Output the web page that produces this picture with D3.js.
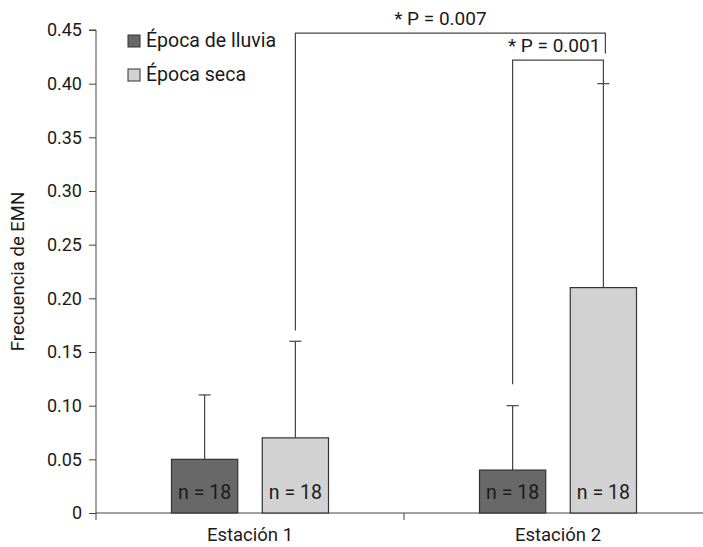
<!DOCTYPE html>
<html>
<head>
<meta charset="utf-8">
<script src="https://cdn.jsdelivr.net/npm/d3@7"></script>
<style>
  body { margin: 0; background: #fff; }
  text { font-family: Roboto, "Noto Sans", sans-serif; fill: #1a1a1a; }
</style>
</head>
<body>
<div id="chart"></div>
<script>
// stations on the x axis
const stations = ["Estación 1", "Estación 2"]
// seasons (series)
const seasons = ["Época de lluvia", "Época seca"]
const seasonColors = ["#686868", "#d2d2d2"]
// mean frequency per station, one array per season
const rainyMeans = [0.05, 0.04]
const dryMeans = [0.07, 0.21]
// upper end of the error bars
const rainyUpper = [0.11, 0.10]
const dryUpper = [0.16, 0.40]
const sampleSizes = [[18, 18], [18, 18]]
const yTicks = [0, 0.05, 0.10, 0.15, 0.20, 0.25, 0.30, 0.35, 0.40, 0.45]

const width = 703, height = 547
const margin = { top: 30, right: -9, bottom: 34, left: 96 }
const innerW = width - margin.left - margin.right
const innerH = height - margin.top - margin.bottom

const svg = d3.select("#chart").append("svg")
  .attr("width", width)
  .attr("height", height)

const g = svg.append("g")
  .attr("transform", `translate(${margin.left},${margin.top})`)

const x = d3.scaleBand().domain(stations).range([0, innerW])
const xs = d3.scaleBand().domain(seasons).range([0, 157]).paddingInner(0.27)
const y = d3.scaleLinear().domain([0, 0.45]).range([innerH, 0])

const rows = stations.map((s, i) => seasons.map((season, j) => ({
  station: s,
  season,
  j,
  mean: j === 0 ? rainyMeans[i] : dryMeans[i],
  upper: j === 0 ? rainyUpper[i] : dryUpper[i],
  n: sampleSizes[i][j]
}))).flat()

const barX = d => x(d.station) + x.bandwidth() / 2 - 157 / 2 + xs(d.season)
const barMid = d => barX(d) + xs.bandwidth() / 2

// y axis
const yAxis = g.append("g")
  .call(d3.axisLeft(y).tickValues(yTicks).tickSize(7).tickPadding(7)
    .tickFormat(d => d === 0 ? "0" : d3.format(".2f")(d)))
yAxis.select(".domain").attr("d", `M-7,${y(0.45)}H0V${innerH}`)
yAxis.selectAll("text").attr("font-size", "18px").attr("fill", "#1a1a1a")
yAxis.selectAll(".domain, .tick line").attr("stroke", "#444")

// x axis
const xAxis = g.append("g")
  .attr("transform", `translate(0,${innerH})`)
  .call(d3.axisBottom(x).tickSize(0).tickPadding(15))
xAxis.select(".domain").attr("d", `M0,0H${innerW}`).attr("stroke", "#444")
xAxis.selectAll("text").attr("font-size", "18.5px").attr("fill", "#1a1a1a")
// category boundary ticks
stations.forEach(s => {
  xAxis.append("line")
    .attr("x1", x(s)).attr("x2", x(s))
    .attr("y1", 0).attr("y2", 7)
    .attr("stroke", "#444")
})

// y label
svg.append("text")
  .attr("transform", `translate(24,${margin.top + y(0.225)}) rotate(-90)`)
  .attr("text-anchor", "middle")
  .attr("font-size", "18.5px")
  .text("Frecuencia de EMN")

// error bars
rows.forEach(d => {
  const cx = barMid(d)
  g.append("line")
    .attr("x1", cx).attr("x2", cx)
    .attr("y1", y(d.mean)).attr("y2", y(d.upper))
    .attr("stroke", "#444").attr("stroke-width", 1.2)
  g.append("line")
    .attr("x1", cx - 6).attr("x2", cx + 6)
    .attr("y1", y(d.upper)).attr("y2", y(d.upper))
    .attr("stroke", "#444").attr("stroke-width", 1.2)
})

// bars
g.selectAll("rect.bar").data(rows).join("rect")
  .attr("class", "bar")
  .attr("x", barX)
  .attr("y", d => y(d.mean))
  .attr("width", xs.bandwidth())
  .attr("height", d => innerH - y(d.mean))
  .attr("fill", d => seasonColors[d.j])
  .attr("stroke", "#333")
  .attr("stroke-width", 1.2)

g.selectAll("text.n").data(rows).join("text")
  .attr("class", "n")
  .attr("x", barMid)
  .attr("y", innerH - 14)
  .attr("text-anchor", "middle")
  .attr("font-size", "19.5px")
  .text(d => `n = ${d.n}`)

// significance brackets
const comparisons = [
  { from: rows[1], to: rows[3], low: 0.17, top: 0.447, rightLow: 0.428, label: "* P = 0.007", anchor: "middle" },
  { from: rows[2], to: rows[3], low: 0.12, top: 0.422, rightLow: 0.40, label: "* P = 0.001", anchor: "end" }
]
comparisons.forEach(c => {
  const x1 = barMid(c.from), x2 = barMid(c.to) + (c.anchor === "middle" ? 2 : 0)
  g.append("path")
    .attr("d", `M${x1},${y(c.low)}V${y(c.top)}H${x2}V${y(c.rightLow)}`)
    .attr("fill", "none")
    .attr("stroke", "#444")
    .attr("stroke-width", 1.2)
  g.append("text")
    .attr("x", c.anchor === "middle" ? (x1 + x2) / 2 - 10 : x2 - 3)
    .attr("y", y(c.top) - 8)
    .attr("text-anchor", c.anchor)
    .attr("font-size", "19px")
    .text(c.label)
})

// legend
const legend = g.append("g").attr("transform", "translate(32,5)")
seasons.forEach((s, i) => {
  const row = legend.append("g").attr("transform", `translate(0,${i * 34})`)
  row.append("rect")
    .attr("width", 12).attr("height", 12)
    .attr("fill", seasonColors[i])
    .attr("stroke", "#333")
  row.append("text")
    .attr("x", 18).attr("y", 12)
    .attr("font-size", "19.5px")
    .text(s)
})
</script>
</body>
</html>
